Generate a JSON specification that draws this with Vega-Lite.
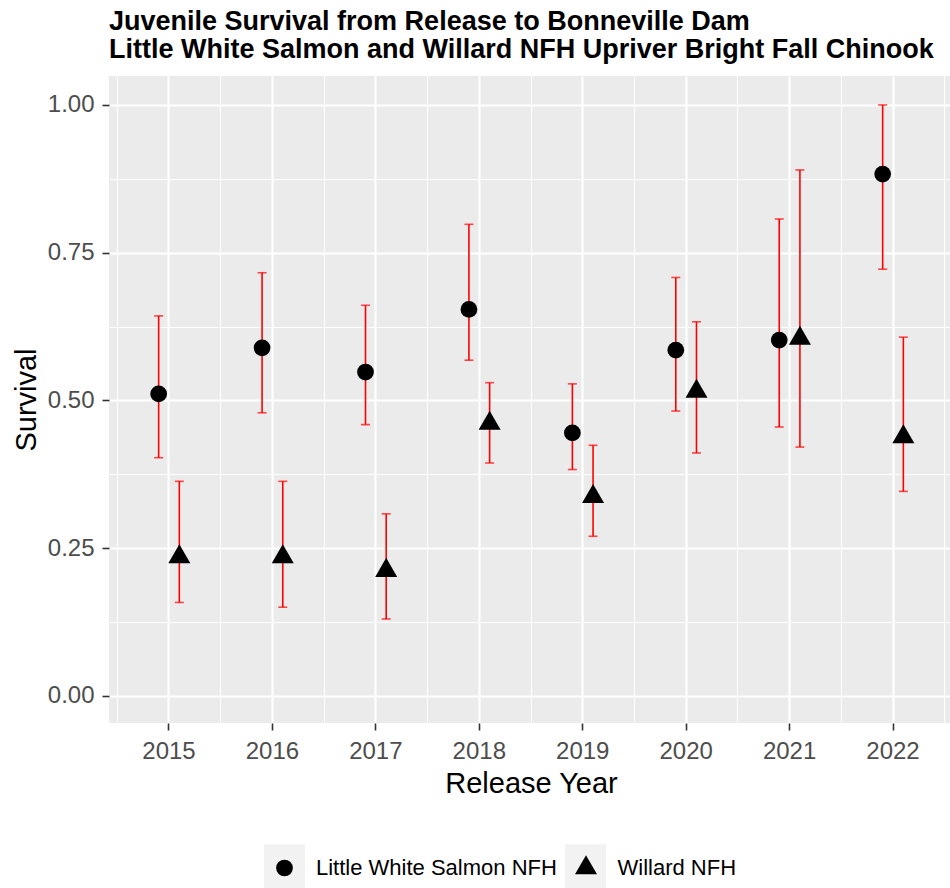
{
  "$schema": "https://vega.github.io/schema/vega-lite/v6.json",
  "autosize": {"type": "none"},
  "padding": {"left": 109, "top": 76, "right": 0, "bottom": 165},
  "width": 844,
  "height": 647,
  "background": "white",
  "view": {"fill": "#EBEBEB", "stroke": null},
  "title": {
    "text": ["Juvenile Survival from Release to Bonneville Dam", "Little White Salmon and Willard NFH Upriver Bright Fall Chinook"],
    "font": "Liberation Sans",
    "fontSize": 27,
    "fontWeight": "bold",
    "color": "black",
    "anchor": "start",
    "frame": "group",
    "lineHeight": 27.7,
    "offset": 12
  },
  "datasets": {
    "survival": [
      {"year": 2015, "site": "Little White Salmon NFH", "est": 0.511, "lo": 0.403, "hi": 0.643},
      {"year": 2016, "site": "Little White Salmon NFH", "est": 0.589, "lo": 0.479, "hi": 0.716},
      {"year": 2017, "site": "Little White Salmon NFH", "est": 0.548, "lo": 0.459, "hi": 0.661},
      {"year": 2018, "site": "Little White Salmon NFH", "est": 0.654, "lo": 0.568, "hi": 0.798},
      {"year": 2019, "site": "Little White Salmon NFH", "est": 0.445, "lo": 0.383, "hi": 0.528},
      {"year": 2020, "site": "Little White Salmon NFH", "est": 0.585, "lo": 0.482, "hi": 0.708},
      {"year": 2021, "site": "Little White Salmon NFH", "est": 0.602, "lo": 0.455, "hi": 0.807},
      {"year": 2022, "site": "Little White Salmon NFH", "est": 0.883, "lo": 0.722, "hi": 1.000},
      {"year": 2015, "site": "Willard NFH", "est": 0.235, "lo": 0.158, "hi": 0.363},
      {"year": 2016, "site": "Willard NFH", "est": 0.235, "lo": 0.150, "hi": 0.363},
      {"year": 2017, "site": "Willard NFH", "est": 0.212, "lo": 0.130, "hi": 0.308},
      {"year": 2018, "site": "Willard NFH", "est": 0.461, "lo": 0.394, "hi": 0.530},
      {"year": 2019, "site": "Willard NFH", "est": 0.337, "lo": 0.270, "hi": 0.424},
      {"year": 2020, "site": "Willard NFH", "est": 0.515, "lo": 0.411, "hi": 0.633},
      {"year": 2021, "site": "Willard NFH", "est": 0.605, "lo": 0.421, "hi": 0.890},
      {"year": 2022, "site": "Willard NFH", "est": 0.438, "lo": 0.346, "hi": 0.607}
    ],
    "keys": [
      {"site": "Little White Salmon NFH"},
      {"site": "Willard NFH"}
    ]
  },
  "data": {"name": "survival"},
  "config": {
    "view": {"stroke": null, "fill": "#EBEBEB"},
    "font": "Liberation Sans",
    "axis": {
      "domain": false,
      "gridColor": "white",
      "tickColor": "#333333",
      "labelColor": "#4D4D4D",
      "labelFont": "Liberation Sans",
      "titleFont": "Liberation Sans",
      "titleFontWeight": "normal",
      "titleColor": "black"
    }
  },
  "layer": [
    {
      "mark": {"type": "rule", "color": "#FF0000", "strokeWidth": 1.6},
      "encoding": {
        "x": {
          "field": "year", "type": "ordinal",
          "scale": {"type": "band", "paddingInner": 0, "paddingOuter": 0.08},
          "axis": {
            "orient": "bottom", "title": "Release Year", "labelAngle": 0, "grid": true,
            "labelFontSize": 24, "titleFontSize": 29, "labelPadding": 9.5, "titlePadding": 6,
            "tickSize": 7, "tickWidth": 1.6, "gridWidth": 2.1
          }
        },
        "xOffset": {"field": "site", "type": "nominal", "scale": {"type": "point", "padding": 0, "range": [{"expr": "bandwidth('x') * 0.4"}, {"expr": "bandwidth('x') * 0.6"}]}},
        "y": {
          "field": "lo", "type": "quantitative",
          "scale": {"domain": [-0.046, 1.049], "nice": false, "zero": false},
          "axis": {
            "orient": "left", "title": "Survival", "values": [0, 0.25, 0.5, 0.75, 1], "format": ".2f", "grid": true,
            "labelFontSize": 24, "titleFontSize": 29, "labelPadding": 8, "titlePadding": 6,
            "tickSize": 7, "tickWidth": 1.6, "gridWidth": 2.1
          }
        },
        "y2": {"field": "hi"}
      }
    },
    {
      "mark": {"type": "tick", "color": "#FF0000", "size": 9, "thickness": 1.6},
      "encoding": {
        "x": {
          "field": "year", "type": "ordinal",
          "axis": {"orient": "bottom", "title": null, "labels": false, "ticks": false, "grid": true, "bandPosition": 0, "gridWidth": 1.05}
        },
        "xOffset": {"field": "site", "type": "nominal"},
        "y": {
          "field": "lo", "type": "quantitative",
          "axis": {"orient": "left", "title": null, "labels": false, "ticks": false, "grid": true, "values": [0.125, 0.375, 0.625, 0.875], "gridWidth": 1.05}
        }
      }
    },
    {
      "mark": {"type": "tick", "color": "#FF0000", "size": 9, "thickness": 1.6},
      "encoding": {
        "x": {
          "field": "year", "type": "ordinal",
          "axis": {"orient": "bottom", "title": null, "labels": false, "ticks": false, "grid": true, "bandPosition": 1, "gridWidth": 1.05}
        },
        "xOffset": {"field": "site", "type": "nominal"},
        "y": {"field": "hi", "type": "quantitative", "axis": null}
      }
    },
    {
      "mark": {"type": "point", "filled": true, "color": "black", "opacity": 1},
      "encoding": {
        "x": {"field": "year", "type": "ordinal", "axis": null},
        "xOffset": {"field": "site", "type": "nominal"},
        "y": {"field": "est", "type": "quantitative", "axis": null},
        "shape": {
          "field": "site", "type": "nominal",
          "scale": {"range": ["circle", "M-1,0.577L1,0.577L0,-1.155Z"]},
          "legend": {
            "orient": "none", "legendX": 164.5, "legendY": 781, "direction": "horizontal",
            "title": null, "padding": 0, "labelFontSize": 22, "labelColor": "black", "labelFont": "Liberation Sans",
            "labelLimit": 0, "labelOffset": 20.5, "columnPadding": 17.5, "symbolFillColor": "black", "symbolStrokeWidth": 0,
            "symbolOpacity": 1, "zindex": 2
          }
        },
        "size": {
          "field": "site", "type": "nominal",
          "scale": {"type": "ordinal", "range": [280, 484]}
        }
      }
    },
    {
      "data": {"name": "keys"},
      "mark": {"type": "point", "filled": true, "shape": "square", "opacity": 0},
      "encoding": {
        "color": {
          "field": "site", "type": "nominal",
          "scale": {"range": ["#F2F2F2", "#F2F2F2"]},
          "legend": {
            "orient": "none", "legendX": 155, "legendY": 771.5, "direction": "horizontal",
            "title": null, "padding": 0, "labelFontSize": 22, "labelExpr": "''", "labelFont": "Liberation Sans",
            "labelOffset": 0, "columnPadding": 260, "symbolType": "M-1,-1.17H1V1.17H-1Z", "symbolSize": 1681,
            "symbolStrokeWidth": 0, "symbolOpacity": 1, "zindex": 1
          }
        }
      }
    }
  ],
  "resolve": {"axis": {"x": "independent", "y": "independent"}}
}
